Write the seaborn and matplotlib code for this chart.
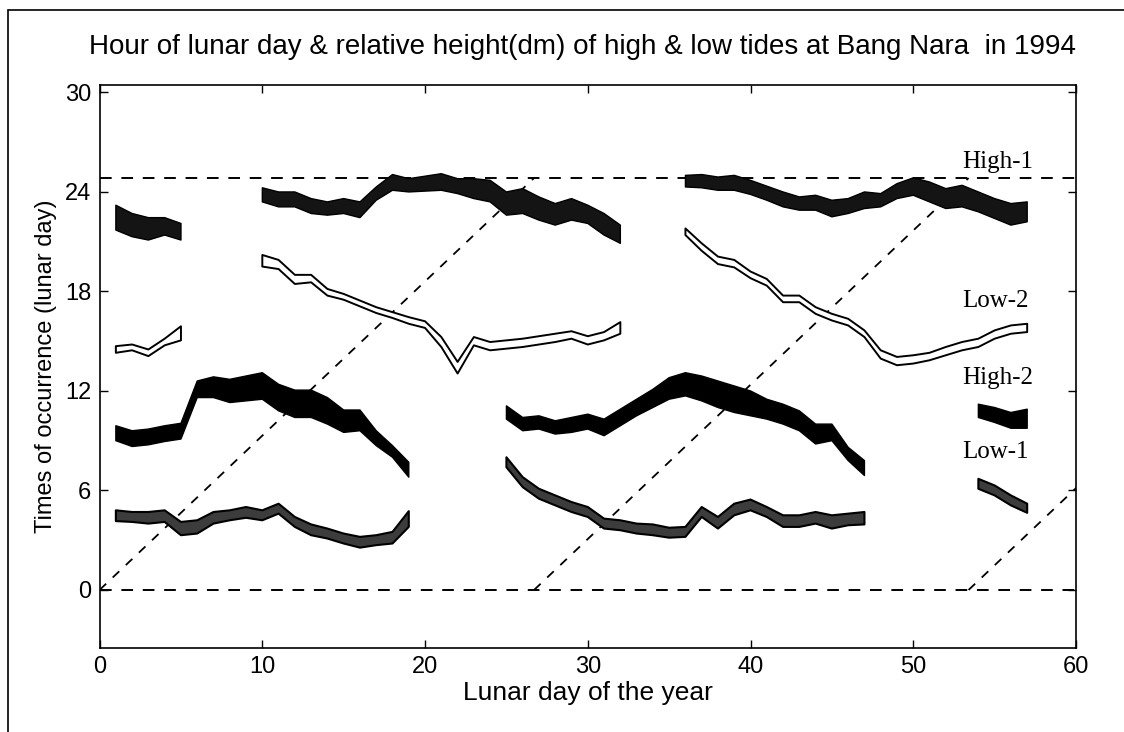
import numpy as np
import pandas as pd
import matplotlib
matplotlib.use("Agg")
import matplotlib.pyplot as plt
import seaborn as sns
from matplotlib.patches import Rectangle

nan = np.nan

# lunar day index 1..57
days = list(range(1, 58))

# band edges (hours of lunar day), nan = no data
high1_top = [23.2, 22.7, 22.45, 22.45, 22.1, nan, nan, nan, nan,
             24.25, 24.0, 24.0, 23.6, 23.4, 23.6, 23.4, 24.3, 25.05, 24.8, 24.95,
             25.1, 24.8, 24.8, 24.7, 24.0, 24.2, 23.7, 23.3, 23.6, 23.2, 22.7, 22.0,
             nan, nan, nan,
             25.0, 25.05, 24.9, 25.0, 24.7, 24.35, 24.0, 23.7, 23.8, 23.5, 23.6,
             24.0, 23.9, 24.5, 24.85, 24.6, 24.2, 24.4, 24.0, 23.6, 23.3, 23.4]
high1_bot = [21.7, 21.3, 21.1, 21.4, 21.1, nan, nan, nan, nan,
             23.4, 23.1, 23.1, 22.7, 22.6, 22.7, 22.45, 23.5, 24.1, 24.0, 24.05,
             24.1, 23.9, 23.6, 23.4, 22.6, 22.7, 22.3, 22.0, 22.3, 22.1, 21.4, 20.9,
             nan, nan, nan,
             24.3, 24.25, 24.1, 24.1, 23.85, 23.5, 23.1, 22.9, 22.9, 22.5, 22.7,
             23.0, 23.1, 23.6, 23.8, 23.4, 23.0, 23.1, 22.8, 22.4, 22.0, 22.2]

low2_top = [14.7, 14.8, 14.5, 15.15, 15.9, nan, nan, nan, nan,
            20.2, 19.9, 19.0, 19.0, 18.15, 17.85, 17.45, 17.05, 16.75, 16.45, 16.2,
            15.25, 13.75, 15.25, 14.95, 15.05, 15.15, 15.3, 15.45, 15.6, 15.3, 15.55, 16.15,
            nan, nan, nan,
            21.8, 20.9, 20.1, 19.9, 19.2, 18.75, 17.75, 17.75, 17.05, 16.65, 16.35,
            15.65, 14.45, 14.05, 14.15, 14.3, 14.65, 14.95, 15.15, 15.65, 15.95, 16.05]
low2_bot = [14.3, 14.45, 14.1, 14.75, 15.05, nan, nan, nan, nan,
            19.5, 19.35, 18.45, 18.55, 17.75, 17.5, 17.1, 16.7, 16.4, 16.05, 15.8,
            14.65, 13.05, 14.75, 14.45, 14.55, 14.65, 14.8, 14.95, 15.15, 14.8, 15.05, 15.45,
            nan, nan, nan,
            21.4, 20.45, 19.65, 19.45, 18.8, 18.35, 17.35, 17.35, 16.65, 16.25, 15.95,
            15.25, 13.95, 13.55, 13.65, 13.85, 14.15, 14.45, 14.65, 15.15, 15.45, 15.55]

high2_top = [9.9, 9.6, 9.7, 9.9, 10.05, 12.6, 12.85, 12.7, 12.9, 13.1,
             12.4, 12.05, 12.05, 11.6, 10.85, 10.85, 9.6, 8.7, 7.7,
             nan, nan, nan, nan, nan,
             11.1, 10.4, 10.5, 10.2, 10.4, 10.6, 10.3, 10.9, 11.5, 12.1, 12.8,
             13.1, 12.9, 12.6, 12.3, 12.0, 11.5, 11.2, 10.8, 10.0, 10.0, 8.6, 7.8,
             nan, nan, nan, nan, nan, nan,
             11.2, 11.0, 10.7, 10.9]
high2_bot = [9.0, 8.65, 8.75, 8.95, 9.1, 11.6, 11.6, 11.3, 11.4, 11.5,
             10.8, 10.4, 10.4, 10.0, 9.5, 9.6, 8.7, 8.0, 6.8,
             nan, nan, nan, nan, nan,
             10.3, 9.6, 9.7, 9.4, 9.5, 9.7, 9.3, 9.9, 10.5, 11.0, 11.5,
             11.7, 11.4, 11.0, 10.7, 10.5, 10.3, 10.0, 9.6, 8.8, 9.0, 7.8, 6.9,
             nan, nan, nan, nan, nan, nan,
             10.4, 10.1, 9.75, 9.75]

low1_top = [4.8, 4.7, 4.7, 4.8, 4.1, 4.2, 4.7, 4.8, 5.0, 4.8,
            5.2, 4.4, 3.95, 3.7, 3.4, 3.2, 3.3, 3.5, 4.75,
            nan, nan, nan, nan, nan,
            8.0, 6.8, 6.1, 5.7, 5.3, 5.0, 4.3, 4.2, 4.0, 3.95, 3.75,
            3.8, 5.0, 4.4, 5.2, 5.45, 5.0, 4.5, 4.5, 4.7, 4.5, 4.6, 4.7,
            nan, nan, nan, nan, nan, nan,
            6.7, 6.3, 5.7, 5.2]
low1_bot = [4.15, 4.1, 4.0, 4.1, 3.3, 3.4, 4.0, 4.2, 4.35, 4.2,
            4.6, 3.8, 3.3, 3.1, 2.8, 2.55, 2.7, 2.8, 3.8,
            nan, nan, nan, nan, nan,
            7.4, 6.2, 5.5, 5.1, 4.7, 4.4, 3.7, 3.6, 3.4, 3.3, 3.15,
            3.2, 4.4, 3.7, 4.5, 4.8, 4.4, 3.8, 3.8, 4.0, 3.7, 3.9, 3.95,
            nan, nan, nan, nan, nan, nan,
            6.1, 5.7, 5.1, 4.65]

lunar_day_hours = 24.84
diag_starts = [0.0, 26.7, 53.4]
diag_period = 26.7

band_labels = ["High-1", "Low-2", "High-2", "Low-1"]
label_y = [25.8, 17.45, 12.75, 8.3]

sns.set_theme(style="ticks")
plt.rcParams["font.family"] = ["Liberation Sans", "DejaVu Sans"]
plt.rcParams["text.color"] = "black"
plt.rcParams["axes.labelcolor"] = "black"

df = pd.DataFrame({"day": days,
                   "h1t": high1_top, "h1b": high1_bot,
                   "l2t": low2_top, "l2b": low2_bot,
                   "h2t": high2_top, "h2b": high2_bot,
                   "l1t": low1_top, "l1b": low1_bot})

fig = plt.figure(figsize=(11.24, 7.32), dpi=100)
ax = fig.add_axes([0.0886, 0.1148, 0.8687, 0.7691])

# reference lines: start and end of the lunar day, plus the solar-midnight drift
ref = pd.DataFrame({"x": [0, 60, 0, 60], "y": [0, 0, lunar_day_hours, lunar_day_hours],
                    "g": ["a", "a", "b", "b"]})
sns.lineplot(data=ref, x="x", y="y", units="g", estimator=None, ax=ax,
             color="black", lw=1.4, linestyle=(0, (6, 5)), zorder=1)
diag = pd.DataFrame({"x": [s for s in diag_starts for _ in (0, 1)],
                     "y": [v for _ in diag_starts for v in (0, lunar_day_hours)],
                     "g": [i for i in range(len(diag_starts)) for _ in (0, 1)]})
diag["x"] = diag["x"] + diag.groupby("g").cumcount() * diag_period
sns.lineplot(data=diag, x="x", y="y", units="g", estimator=None, ax=ax,
             color="black", lw=1.3, linestyle=(0, (5, 5)), zorder=1)

# tide bands
ax.fill_between(df["day"], df["h1b"], df["h1t"], facecolor="#141414", edgecolor="black", lw=1, zorder=3)
ax.fill_between(df["day"], df["l2b"], df["l2t"], facecolor="white", edgecolor="black", lw=1.4, zorder=3)
ax.fill_between(df["day"], df["h2b"], df["h2t"], facecolor="black", edgecolor="black", lw=1, zorder=3)
ax.fill_between(df["day"], df["l1b"], df["l1t"], facecolor="#3c3c3c", edgecolor="black", lw=1.5, zorder=3)

for lab, yy in zip(band_labels, label_y):
    ax.text(53.0, yy, lab, fontsize=18, family="Liberation Serif", va="center", ha="left")

ax.set_xlim(0, 60)
ax.set_ylim(-3.5, 30.45)
ax.set_xticks(range(0, 61, 10))
ax.set_yticks(range(0, 31, 6))
ax.tick_params(direction="in", top=True, right=True, length=6, width=1, labelsize=17,
               colors="black", pad=6)
for s in ax.spines.values():
    s.set_visible(True)
    s.set_color("black")
    s.set_linewidth(1.2)
ax.set_xlabel("Lunar day of the year", fontsize=19, labelpad=2)
ax.set_ylabel("Times of occurrence (lunar day)", fontsize=17, labelpad=6)

fig.text(0.518, 1 - 47 / 732, "Hour of lunar day & relative height(dm) of high & low tides at Bang Nara  in 1994",
         ha="center", va="center", fontsize=20)

# figure frame
fig.patches.append(Rectangle((8 / 1124, -0.05), 1.1, 1 - 10 / 732 + 0.05, transform=fig.transFigure,
                             fill=False, edgecolor="black", lw=1.2))

fig.savefig("out.png", dpi=100)
